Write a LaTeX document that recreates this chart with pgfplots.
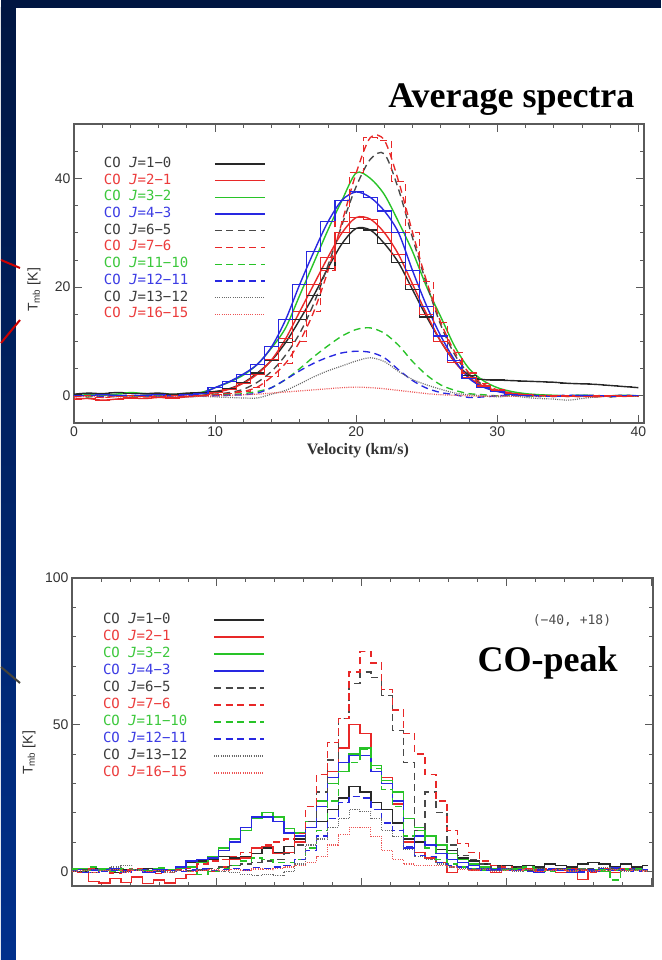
\documentclass[border=0pt]{standalone}
\usepackage{fontspec}
\setmainfont{Liberation Sans}
\newfontfamily\legfont{DejaVu Sans Mono}
\newfontfamily\titlefont{Liberation Serif}
\usepackage{pgfplots}
\usepackage{pgfplotstable}
\pgfplotsset{compat=1.18}

\definecolor{cK}{RGB}{40,40,40}
\definecolor{cR}{RGB}{232,40,40}
\definecolor{cG}{RGB}{40,195,40}
\definecolor{cB}{RGB}{40,40,225}
\definecolor{tK}{RGB}{60,60,60}
\definecolor{tR}{RGB}{236,60,60}
\definecolor{tG}{RGB}{60,200,60}
\definecolor{tB}{RGB}{60,60,228}
\definecolor{navyTop}{RGB}{0,22,66}
\definecolor{navyBot}{RGB}{0,48,140}
\definecolor{frame}{RGB}{90,90,90}

\pgfplotstableread{
v c10 c21 c32 c43 c65 c76 c1110 c1211 c1312 c1615
0 0.3 -0.6 0.0 0.1 0.0 -0.2 0.1 0.0 -0.1 -0.2
1 0.5 -0.5 0.2 0.0 -0.2 0.0 -0.1 0.1 0.0 -0.1
2 0.4 -0.8 0.1 0.2 0.1 -0.3 0.0 -0.1 0.1 -0.3
3 0.6 -0.6 0.3 0.1 0.0 -0.1 0.1 0.0 -0.2 -0.1
4 0.5 -0.4 0.6 0.0 -0.1 0.0 0.0 0.1 0.0 -0.2
5 0.4 -0.5 0.4 0.1 0.1 -0.2 -0.1 0.0 0.1 0.0
6 0.5 -0.3 0.3 0.2 0.0 -0.1 0.0 -0.1 -0.1 -0.1
7 0.3 -0.4 0.2 0.0 0.1 0.0 0.1 0.0 0.0 -0.2
8 0.5 -0.2 0.3 0.2 0.0 -0.1 0.0 0.1 -0.2 0.0
9 0.6 0.0 0.6 0.4 0.1 0.0 0.0 0.0 -0.1 -0.1
10 0.8 0.6 1.5 1.5 0.3 0.2 0.1 0.0 -0.2 0.0
11 1.3 1.2 2.5 2.6 0.6 0.4 0.2 0.1 -0.3 0.1
12 2.4 2.3 3.8 4.0 1.2 0.8 0.4 0.2 -0.4 0.2
13 4.2 4.0 5.8 5.8 2.5 1.6 0.8 0.5 -0.4 0.3
14 6.5 6.6 8.8 9.0 4.5 3.5 1.5 1.5 0.3 0.5
15 9.8 10.5 12.5 14.0 7.5 6.0 3.0 3.0 1.0 0.7
16 14.0 15.5 18.5 20.5 11.5 10.0 5.0 4.6 2.2 0.9
17 18.5 20.5 24.5 26.5 17.0 15.5 7.2 6.0 3.5 1.1
18 23.5 25.5 30.5 32.0 24.0 23.0 9.2 7.1 4.6 1.3
19 28.0 30.0 36.0 36.0 31.5 32.0 11.0 7.9 5.5 1.5
20 30.8 32.8 41.0 37.5 38.5 41.0 12.2 8.2 6.4 1.6
21 30.5 32.5 40.0 36.5 43.5 47.5 12.5 8.0 7.0 1.5
22 28.0 30.0 37.0 34.0 44.5 47.0 11.5 7.0 6.3 1.3
23 24.5 26.0 32.0 30.0 38.0 39.5 9.3 4.8 4.5 1.0
24 19.5 20.5 26.5 23.0 29.0 30.0 6.3 2.8 3.0 0.7
25 14.5 15.0 20.0 16.5 20.5 21.0 3.8 1.4 2.0 0.4
26 10.0 10.0 14.5 11.0 13.0 13.5 2.0 0.6 1.2 0.2
27 6.2 6.2 9.0 6.5 7.5 8.0 1.0 0.2 0.5 0.1
28 3.8 3.4 5.0 3.2 4.0 4.2 0.4 -0.3 0.2 0.0
29 3.0 1.8 2.8 1.6 2.0 2.2 0.2 -0.2 0.0 -0.1
30 2.9 0.9 1.5 0.8 1.0 1.1 0.0 0.0 -0.2 0.0
31 2.8 0.4 0.8 0.3 0.5 0.5 0.1 0.1 0.0 -0.1
32 2.7 0.2 0.4 0.1 0.2 0.2 0.0 0.0 -0.3 0.0
33 2.6 0.1 0.2 0.0 0.1 0.0 -0.1 -0.1 -0.5 -0.1
34 2.5 0.0 0.1 -0.1 0.0 -0.1 0.0 0.0 -0.6 0.0
35 2.3 -0.1 0.0 0.0 -0.1 0.0 0.0 0.1 -0.8 -0.1
36 2.2 0.0 0.1 0.1 0.0 -0.2 0.1 0.0 -0.5 0.0
37 2.1 -0.2 -0.1 0.0 0.1 0.0 0.0 -0.1 -0.2 -0.1
38 1.9 0.0 0.0 -0.1 -0.2 -0.1 -0.1 0.0 0.0 0.0
39 1.7 -0.1 0.1 0.0 0.0 0.0 0.0 0.1 -0.1 -0.1
40 1.5 0.0 0.0 0.0 -0.1 -0.1 0.0 0.0 0.0 0.0
}\topdata

\pgfplotstableread{
v c10 c21 c32 c43 c65 c76 c1110 c1211 c1312 c1615
-20 0.5 0.3 0.3 0.2 0.0 0.5 0.8 0.2 0.3 0.0
-18.5 0.0 -0.5 0.8 0.6 0.5 -0.5 0.3 -0.4 0.0 0.4
-17 0.8 -3.5 0.2 -0.3 -0.3 0.8 1.5 0.5 0.5 -0.3
-15.5 0.3 -4.0 1.0 0.5 0.2 0.2 0.5 0.0 0.2 0.2
-14 -0.5 -2.5 0.5 0.8 0.6 -0.6 0.0 0.3 1.5 0.5
-12.5 0.6 -3.8 0.0 0.1 0.0 0.4 1.0 -0.5 2.0 -0.2
-11 0.2 -2.0 0.6 0.4 0.4 0.9 0.5 0.2 0.5 0.3
-9.5 0.9 -4.2 0.3 -0.2 0.7 0.0 0.2 0.6 0.0 0.0
-8 0.0 -3.0 0.8 0.5 0.1 -0.8 1.2 -0.2 0.3 0.4
-6.5 0.4 -4.0 0.4 0.5 0.3 0.3 0.6 0.3 -0.2 -0.3
-5 1.0 -2.5 1.0 1.5 0.5 0.6 1.0 0.0 0.4 0.2
-3.5 3.0 -1.0 1.5 3.5 0.3 1.0 0.0 0.5 0.0 0.0
-2 3.5 0.5 3.0 4.0 0.5 2.5 -1.0 0.8 0.5 0.3
-0.5 4.0 0.0 5.0 4.5 1.0 3.5 0.0 0.3 0.2 0.5
1 5.0 1.5 8.0 7.0 1.5 4.0 1.0 0.6 0.0 0.2
2.5 4.5 4.0 11.0 10.0 2.0 5.0 2.0 1.0 -0.5 0.6
4 5.0 4.5 14.0 15.0 2.5 6.5 3.5 0.5 -1.0 0.3
5.5 6.0 8.0 18.0 18.5 3.0 8.0 4.5 1.2 -1.5 0.8
7 8.0 8.5 20.0 18.5 3.5 9.0 4.0 1.0 -1.0 0.5
8.5 6.5 6.0 18.5 17.0 4.0 10.0 3.0 1.5 -1.5 1.0
10 8.5 6.5 14.5 13.0 6.0 11.0 3.0 2.0 0.0 1.5
11.5 11.0 10.0 13.0 12.0 9.0 13.0 4.0 4.0 2.5 2.0
13 15.0 17.0 17.0 15.0 17.0 22.0 8.0 7.0 9.0 3.0
14.5 17.0 24.0 24.0 22.0 27.0 33.0 14.0 12.0 11.0 5.0
16 21.0 34.0 30.0 32.0 38.0 44.0 24.0 18.0 15.0 9.0
17.5 25.0 42.0 34.0 37.0 52.0 52.0 34.0 23.5 18.0 12.5
19 29.0 50.0 40.0 39.5 64.0 68.0 37.0 25.5 21.0 15.0
20.5 27.0 47.0 42.0 39.5 68.0 75.0 41.5 25.0 20.5 15.0
22 23.5 34.0 36.0 34.0 66.0 71.0 35.0 21.0 18.0 12.0
23.5 21.0 32.0 31.0 30.0 60.0 62.0 28.0 16.5 14.0 7.0
25 16.5 23.0 27.0 24.0 48.0 55.0 22.0 14.0 12.0 4.0
26.5 11.0 10.0 18.0 8.0 37.0 47.0 12.0 8.5 7.5 2.5
28 10.0 6.5 15.0 12.0 14.0 40.0 14.0 5.5 5.0 2.0
29.5 12.0 4.5 12.0 9.0 27.0 33.0 8.0 5.0 4.0 2.0
31 7.5 3.0 9.0 6.0 20.0 24.0 4.0 3.0 2.5 2.0
32.5 7.0 -0.5 6.0 4.0 9.0 14.0 2.5 2.0 1.5 1.5
34 4.5 1.5 4.0 3.0 5.5 9.5 1.5 1.5 1.0 0.5
35.5 3.5 0.5 2.5 2.0 4.0 6.5 1.0 1.0 0.5 0.3
37 2.5 1.0 1.5 1.0 2.5 3.5 0.5 0.5 1.0 0.6
38.5 2.0 -0.5 1.0 0.5 1.5 2.0 1.0 0.8 0.3 0.0
40 2.0 0.8 0.5 1.0 1.0 1.5 0.2 0.3 0.8 0.4
41.5 1.5 0.3 1.0 0.2 1.3 1.0 0.8 0.6 0.0 0.2
43 2.0 1.0 0.3 0.7 0.5 1.2 1.5 0.0 0.5 0.5
44.5 1.5 0.0 0.8 -0.5 0.9 0.5 0.4 0.5 1.0 0.0
46 2.5 0.6 0.2 0.4 0.3 0.8 0.0 0.9 0.2 0.3
47.5 2.0 -0.3 0.6 0.8 1.0 0.3 0.7 0.2 0.6 0.6
49 1.5 0.5 1.0 -0.3 0.6 1.0 0.3 0.4 0.0 0.1
50.5 2.5 -2.7 0.3 0.5 0.2 0.4 1.0 -0.2 0.8 0.4
52 3.0 0.4 0.7 0.0 0.8 -0.5 0.2 0.5 0.4 0.0
53.5 2.5 0.8 0.0 0.6 0.4 0.6 0.5 1.0 1.2 0.3
55 1.5 -0.5 0.5 1.2 1.0 0.2 -3.0 0.3 0.5 0.5
56.5 2.5 0.5 1.0 0.3 0.5 0.9 0.4 0.6 0.0 0.2
58 1.5 0.2 0.4 0.8 0.7 0.3 0.8 0.1 0.6 0.4
59.5 2.0 0.5 0.6 0.5 0.3 0.6 0.2 0.4 0.3 0.1
}\botdata

\pgfplotsset{
  spec/.style={
    scale only axis,
    axis line style={draw=frame, line width=1.1pt},
    tick style={draw=frame, line width=0.8pt},
    major tick length=8pt, minor tick length=4pt,
    ticklabel style={font=\fontsize{14}{16}\selectfont, text=black!80},
    /pgf/number format/assume math mode=true,
    label style={text=black!80},
    legend cell align=left,
    legend plot pos=right,
    clip=true,
  },
  solidK/.style={cK, line width=1.4pt},
  solidR/.style={cR, line width=1.4pt},
  solidG/.style={cG, line width=1.4pt},
  solidB/.style={cB, line width=1.4pt},
  dashK/.style={cK!85, line width=1.35pt, dash pattern=on 7pt off 4.5pt},
  dashR/.style={cR, line width=1.35pt, dash pattern=on 7pt off 4.5pt},
  dashG/.style={cG, line width=1.35pt, dash pattern=on 7pt off 4.5pt},
  dashB/.style={cB, line width=1.35pt, dash pattern=on 7pt off 4.5pt},
  dotK/.style={cK!70, line width=1.2pt, dash pattern=on 1pt off 1.2pt},
  dotR/.style={cR!80, line width=1.2pt, dash pattern=on 1pt off 1.2pt},
}

\begin{document}
\begin{tikzpicture}[x=1pt,y=1pt]
% slide background
\fill[navyTop] (0,0) rectangle (660,960);
\shade[top color=navyTop, bottom color=navyBot] (0,0) rectangle (15,952);
\fill[white] (15,0) rectangle (660,952);
\draw[red!80!black, line width=2pt] (0,700) -- (19,692);
\draw[red!80!black, line width=2pt] (0,617) -- (19,640);
\draw[black!60!yellow!40!black, line width=2pt] (0,293) -- (19,277);

% ---------------- top panel ----------------
\begin{axis}[spec,
  at={(73pt,537pt)}, anchor=south west,
  width=570pt, height=299pt,
  xmin=0, xmax=40.4, ymin=-5, ymax=50,
  xtick={0,10,20,30,40}, minor x tick num=4,
  ytick={0,20,40}, minor ytick={5,10,15,25,30,35,45},
  xlabel={\fontsize{16}{18}\selectfont\titlefont\bfseries Velocity (km/s)},
  xlabel style={at={(axis description cs:0.498,-0.092)}, anchor=center},
  ylabel={\fontsize{14}{16}\selectfont T\textsubscript{mb} [K]},
  ylabel style={at={(axis description cs:-0.070,0.445)}, anchor=center},
  legend image code/.code={\draw[#1] (0pt,0pt) -- (50pt,0pt);},
  legend style={draw=none, fill=none, inner sep=0pt, outer sep=0pt,
    at={(axis description cs:0.0526,0.888)}, anchor=north west,
    font=\legfont\fontsize{14}{16}\selectfont,
    row sep=3.7pt, column sep=26pt,
    nodes={inner sep=0pt, text height=10pt, text depth=3pt}},
]
\addplot[solidK, smooth] table[x=v,y=c10]{\topdata};
\addlegendentry{\textcolor{tK}{CO \textit{J}=1−0}}
\addplot[solidR, smooth] table[x=v,y=c21]{\topdata};
\addlegendentry{\textcolor{tR}{CO \textit{J}=2−1}}
\addplot[solidG, smooth] table[x=v,y=c32]{\topdata};
\addlegendentry{\textcolor{tG}{CO \textit{J}=3−2}}
\addplot[solidB, smooth] table[x=v,y=c43]{\topdata};
\addlegendentry{\textcolor{tB}{CO \textit{J}=4−3}}
\addplot[dashK, smooth] table[x=v,y=c65]{\topdata};
\addlegendentry{\textcolor{tK}{CO \textit{J}=6−5}}
\addplot[dashR, smooth] table[x=v,y=c76]{\topdata};
\addlegendentry{\textcolor{tR}{CO \textit{J}=7−6}}
\addplot[dashG, smooth] table[x=v,y=c1110]{\topdata};
\addlegendentry{\textcolor{tG}{CO \textit{J}=11−10}}
\addplot[dashB, smooth] table[x=v,y=c1211]{\topdata};
\addlegendentry{\textcolor{tB}{CO \textit{J}=12−11}}
\addplot[dotK, smooth] table[x=v,y=c1312]{\topdata};
\addlegendentry{\textcolor{tK}{CO \textit{J}=13−12}}
\addplot[dotR, smooth] table[x=v,y=c1615]{\topdata};
\addlegendentry{\textcolor{tR}{CO \textit{J}=16−15}}
% stepped (channel) versions of the data
\addplot[solidK, line width=1.1pt, const plot mark mid, forget plot] table[x=v,y=c10]{\topdata};
\addplot[solidR, line width=1.1pt, const plot mark mid, forget plot] table[x=v,y=c21]{\topdata};
\addplot[solidB, line width=1.1pt, const plot mark mid, forget plot] table[x=v,y=c43]{\topdata};
\addplot[dashR, line width=1.1pt, const plot mark mid, forget plot] table[x=v,y=c76]{\topdata};
\end{axis}
\node[anchor=base east, font=\titlefont\bfseries\fontsize{36}{40}\selectfont, text=black]
  at (637,852) {Average spectra};

% ---------------- bottom panel ----------------
\begin{axis}[spec,
  at={(71pt,74pt)}, anchor=south west,
  width=581pt, height=308pt,
  xmin=-20, xmax=60.2, ymin=-5, ymax=100,
  xtick={-20,0,20,40,60}, minor x tick num=4, xticklabels={},
  ytick={0,50,100}, minor y tick num=4,
  ylabel={\fontsize{14}{16}\selectfont T\textsubscript{mb} [K]},
  ylabel style={at={(axis description cs:-0.074,0.432)}, anchor=center},
  legend image code/.code={\draw[#1] (0pt,0pt) -- (50pt,0pt);},
  legend style={draw=none, fill=none, inner sep=0pt, outer sep=0pt,
    at={(axis description cs:0.0534,0.885)}, anchor=north west,
    font=\legfont\fontsize{14}{16}\selectfont,
    row sep=4pt, column sep=26pt,
    nodes={inner sep=0pt, text height=10pt, text depth=3pt}},
]
\addplot[solidK, const plot mark mid] table[x=v,y=c10]{\botdata};
\addlegendentry{\textcolor{tK}{CO \textit{J}=1−0}}
\addplot[solidR, const plot mark mid] table[x=v,y=c21]{\botdata};
\addlegendentry{\textcolor{tR}{CO \textit{J}=2−1}}
\addplot[solidG, const plot mark mid] table[x=v,y=c32]{\botdata};
\addlegendentry{\textcolor{tG}{CO \textit{J}=3−2}}
\addplot[solidB, const plot mark mid] table[x=v,y=c43]{\botdata};
\addlegendentry{\textcolor{tB}{CO \textit{J}=4−3}}
\addplot[dashK, const plot mark mid] table[x=v,y=c65]{\botdata};
\addlegendentry{\textcolor{tK}{CO \textit{J}=6−5}}
\addplot[dashR, const plot mark mid] table[x=v,y=c76]{\botdata};
\addlegendentry{\textcolor{tR}{CO \textit{J}=7−6}}
\addplot[dashG, const plot mark mid] table[x=v,y=c1110]{\botdata};
\addlegendentry{\textcolor{tG}{CO \textit{J}=11−10}}
\addplot[dashB, const plot mark mid] table[x=v,y=c1211]{\botdata};
\addlegendentry{\textcolor{tB}{CO \textit{J}=12−11}}
\addplot[dotK, const plot mark mid] table[x=v,y=c1312]{\botdata};
\addlegendentry{\textcolor{tK}{CO \textit{J}=13−12}}
\addplot[dotR, const plot mark mid] table[x=v,y=c1615]{\botdata};
\addlegendentry{\textcolor{tR}{CO \textit{J}=16−15}}
\end{axis}
\node[anchor=center, font=\legfont\fontsize{13}{15}\selectfont, text=black!70]
  at (571,340) {(−40, +18)};
\node[anchor=base west, font=\titlefont\bfseries\fontsize{36}{40}\selectfont, text=black]
  at (473,288) {CO-peak};
\end{tikzpicture}
\end{document}
